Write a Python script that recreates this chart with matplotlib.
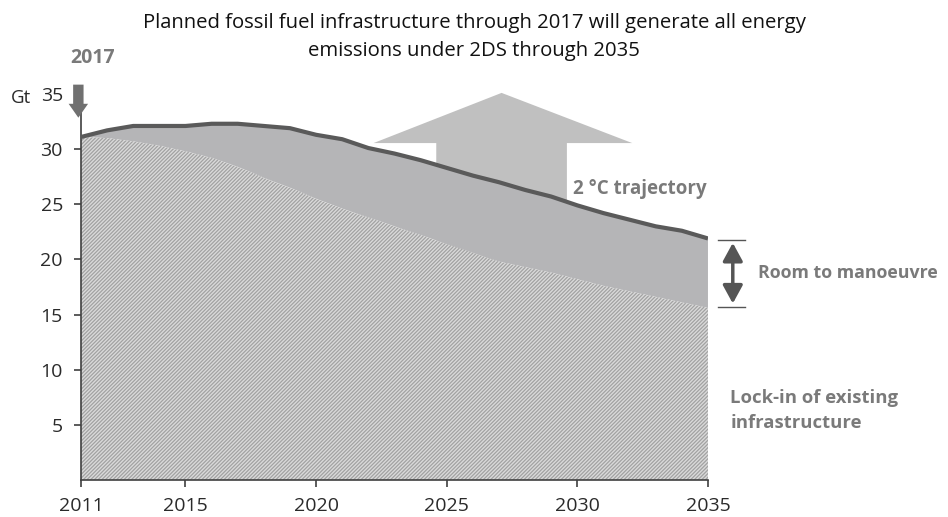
import matplotlib

matplotlib.use("Agg")
import matplotlib.pyplot as plt
from matplotlib.patches import Polygon, FancyArrowPatch

plt.rcParams["font.family"] = ["Open Sans", "DejaVu Sans"]
plt.rcParams["hatch.linewidth"] = 0.9
plt.rcParams["hatch.color"] = "#a2a2a2"

# data
years = list(range(2011, 2036))
two_ds = [31.1, 31.7, 32.1, 32.1, 32.1, 32.3, 32.3, 32.1, 31.9, 31.3, 30.9, 30.1, 29.6,
          29.0, 28.3, 27.6, 27.0, 26.3, 25.7, 24.9, 24.2, 23.6, 23.0, 22.6, 21.9]
lock_in = [31.1, 31.0, 30.7, 30.3, 29.8, 29.2, 28.4, 27.4, 26.5, 25.5, 24.6, 23.8, 23.0,
           22.2, 21.4, 20.6, 19.8, 19.3, 18.8, 18.2, 17.6, 17.1, 16.6, 16.1, 15.6]
x_ticks = [2011, 2015, 2020, 2025, 2030, 2035]
y_ticks = [5, 10, 15, 20, 25, 30, 35]

TXT = "#7a7a7a"
AX = "#404040"

fig = plt.figure(figsize=(9.48, 5.17), dpi=100)
ax = fig.add_axes([0.0854, 0.0716, 0.6614, 0.7466])
ax.set_xlim(2011, 2035)
ax.set_ylim(0, 35)

# big upward arrow behind the area
arrow = Polygon(
    [(2024.6, 20), (2024.6, 30.55), (2022.2, 30.55), (2027.1, 35.1),
     (2032.1, 30.55), (2029.6, 30.55), (2029.6, 20)],
    closed=True, facecolor="#c0c0c0", edgecolor="none", zorder=1, clip_on=False,
)
ax.add_patch(arrow)

ax.fill_between(years, lock_in, two_ds, facecolor="#b5b5b7", edgecolor="none", zorder=2)
ax.fill_between(years, 0, lock_in, facecolor="#dadada", edgecolor="#a2a2a2",
                hatch="/////////", linewidth=0, zorder=2)
ax.plot(years, two_ds, color="#5a5a5a", lw=3, zorder=3, solid_capstyle="butt")

ax.set_xticks(x_ticks)
ax.set_yticks(y_ticks)
ax.tick_params(axis="both", labelsize=14, colors="#2a2a2a", length=5, width=1.2, color=AX)
ax.tick_params(axis="y", pad=8)
ax.tick_params(axis="x", pad=7)
for side in ["top", "right"]:
    ax.spines[side].set_visible(False)
for side in ["left", "bottom"]:
    ax.spines[side].set_color(AX)
    ax.spines[side].set_linewidth(1.2)

fig.text(0.011, 0.81, "Gt", fontsize=13.5, color="#2a2a2a", va="center")
fig.text(0.50, 0.928, "Planned fossil fuel infrastructure through 2017 will generate all energy\n"
         "emissions under 2DS through 2035", ha="center", va="center", fontsize=14.6,
         color="#111111", linespacing=1.5)

# 2017 marker
ax.annotate("", xy=(2010.9, 32.6), xytext=(2010.9, 36.1),
            arrowprops=dict(arrowstyle="simple,head_width=1.4,head_length=1.0,tail_width=0.75",
                            color="#707070", lw=0), annotation_clip=False)
fig.text(0.074, 0.887, "2017", fontsize=14, fontweight="bold", color=TXT, va="center")

ax.text(2029.85, 26.4, "2 °C trajectory", fontsize=13.5, fontweight="bold", color=TXT, va="center")

# room to manoeuvre
ax.add_patch(FancyArrowPatch((2035.95, 21.75), (2035.95, 15.75),
                             arrowstyle="<|-|>,head_width=6,head_length=11",
                             color="#555555", lw=2.5, clip_on=False, mutation_scale=1))
ax.plot([2035.4, 2036.4], [21.8, 21.8], color="#555555", lw=1, clip_on=False)
ax.plot([2035.4, 2036.4], [15.7, 15.7], color="#555555", lw=1, clip_on=False)
ax.text(2036.9, 18.8, "Room to manoeuvre", fontsize=12.8, fontweight="bold", color=TXT, va="center")

ax.text(2035.85, 6.3, "Lock-in of existing\ninfrastructure", fontsize=13.3, fontweight="bold",
        color=TXT, va="center", linespacing=1.45)

fig.savefig("out.png", dpi=100)
